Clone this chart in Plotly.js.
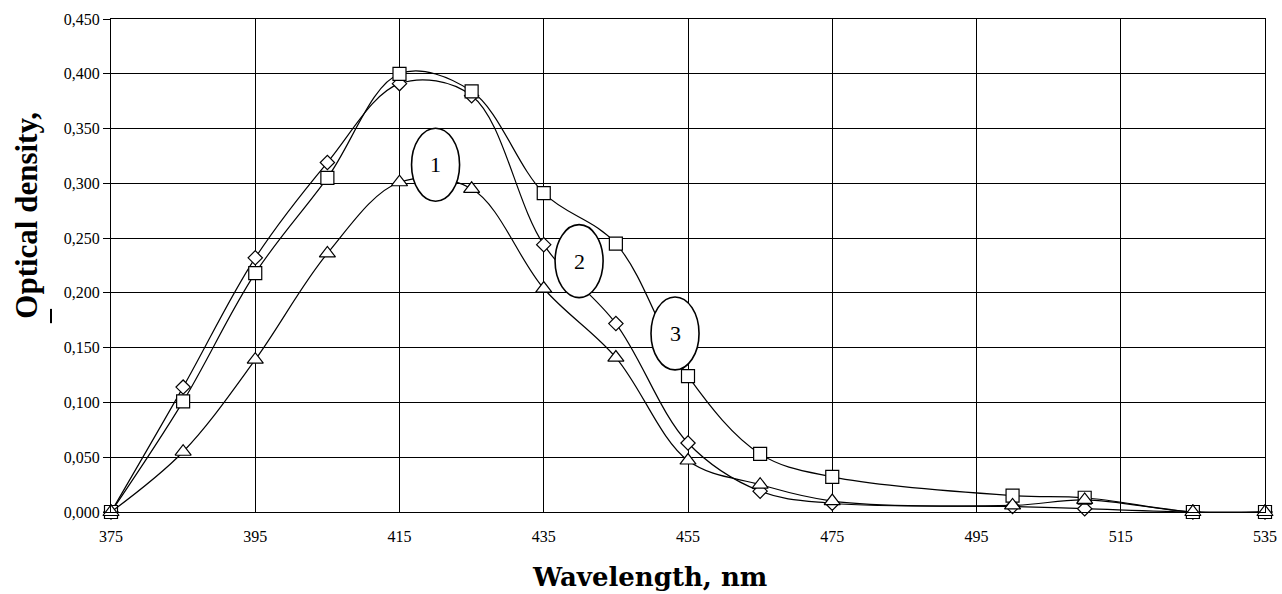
<!DOCTYPE html>
<html>
<head>
<meta charset="utf-8">
<script src="https://cdn.plot.ly/plotly-3.0.1.min.js"></script>
<style>html,body{margin:0;padding:0;background:#fff;}#chart{width:1282px;height:594px;}</style>
</head>
<body>
<div id="chart"></div>
<script>
// Wavelength, nm
const wavelength = [375, 385, 395, 405, 415, 425, 435, 445, 455, 465, 475, 500, 510, 525, 535];
// Curve 1 (triangles)
const curve1 = [0.000, 0.055, 0.139, 0.236, 0.301, 0.295, 0.204, 0.141, 0.047, 0.025, 0.010, 0.006, 0.011, 0.000, 0.000];
// Curve 2 (diamonds)
const curve2 = [0.000, 0.114, 0.232, 0.319, 0.391, 0.380, 0.244, 0.172, 0.063, 0.019, 0.008, 0.005, 0.003, 0.000, 0.000];
// Curve 3 (squares)
const curve3 = [0.000, 0.101, 0.218, 0.305, 0.400, 0.384, 0.291, 0.245, 0.124, 0.053, 0.032, 0.015, 0.013, 0.000, 0.000];
// Curve labels and their anchor points (data coordinates)
const labelText = ["1", "2", "3"];
const labelX = [420.0, 439.9, 453.2];
const labelY = [0.317, 0.229, 0.163];
const xTicks = [375, 395, 415, 435, 455, 475, 495, 515, 535];
const xTitle = "Wavelength, nm";
const yTitle = "Optical density,";

const serif = "Liberation Serif, Times New Roman, serif";
function trace(y, sym, size) {
  return {
    x: wavelength, y: y, type: "scatter", mode: "lines+markers",
    line: {color: "#000", width: 1.2, shape: "spline", smoothing: 1},
    marker: {symbol: sym, size: size, color: "#fff", line: {color: "#000", width: 1.2}},
    showlegend: false, hoverinfo: "skip", cliponaxis: false
  };
}
const data = [
  trace(curve2, "diamond", 11),
  trace(curve3, "square", 13),
  trace(curve1, "triangle-up", 14)
];
const ew = 3.33, eh = 0.0333;
const shapes = labelX.map((x, i) => ({
  type: "circle", xref: "x", yref: "y",
  x0: x - ew, x1: x + ew, y0: labelY[i] - eh, y1: labelY[i] + eh,
  line: {color: "#000", width: 1.6}, fillcolor: "#fff", layer: "above"
}));
shapes.push({
  type: "line", xref: "paper", yref: "paper",
  x0: -0.052, x1: -0.052, y0: 0.383, y1: 0.412,
  line: {color: "#000", width: 2}
});
const annotations = labelX.map((x, i) => ({
  x: x, y: labelY[i], xref: "x", yref: "y", text: labelText[i], showarrow: false,
  font: {family: serif, size: 22, color: "#000"}
}));
annotations.push({
  xref: "paper", yref: "paper", x: 0.467, y: -0.132, xanchor: "center", yanchor: "middle",
  text: "<b>" + xTitle + "</b>", showarrow: false,
  font: {family: "DejaVu Serif, serif", size: 26, color: "#000"}
});
annotations.push({
  xref: "paper", yref: "paper", x: -0.0728, y: 0.603, xanchor: "center", yanchor: "middle",
  text: "<b>" + yTitle + "</b>", showarrow: false, textangle: -90,
  font: {family: serif, size: 31, color: "#000"}
});
const layout = {
  width: 1282, height: 594,
  margin: {l: 111, r: 17, t: 19, b: 82},
  paper_bgcolor: "#fff", plot_bgcolor: "#fff",
  separators: ", ",
  showlegend: false,
  xaxis: {
    range: [375, 535], tickvals: xTicks, ticktext: xTicks.map(String),
    showgrid: true, gridcolor: "#000", gridwidth: 1,
    showline: true, linecolor: "#000", linewidth: 1, mirror: true,
    zeroline: false, ticks: "outside", ticklen: 10, tickcolor: "rgba(0,0,0,0)",
    tickfont: {family: serif, size: 16, color: "#000"}
  },
  yaxis: {
    range: [0, 0.45], tick0: 0, dtick: 0.05, tickformat: ".3f",
    showgrid: true, gridcolor: "#000", gridwidth: 1,
    showline: true, linecolor: "#000", linewidth: 1, mirror: true,
    zeroline: false, ticks: "outside", ticklen: 7, tickcolor: "#000",
    tickfont: {family: serif, size: 16, color: "#000"}
  },
  shapes: shapes,
  annotations: annotations
};
Plotly.newPlot("chart", data, layout, {displayModeBar: false, staticPlot: true});
</script>
</body>
</html>
